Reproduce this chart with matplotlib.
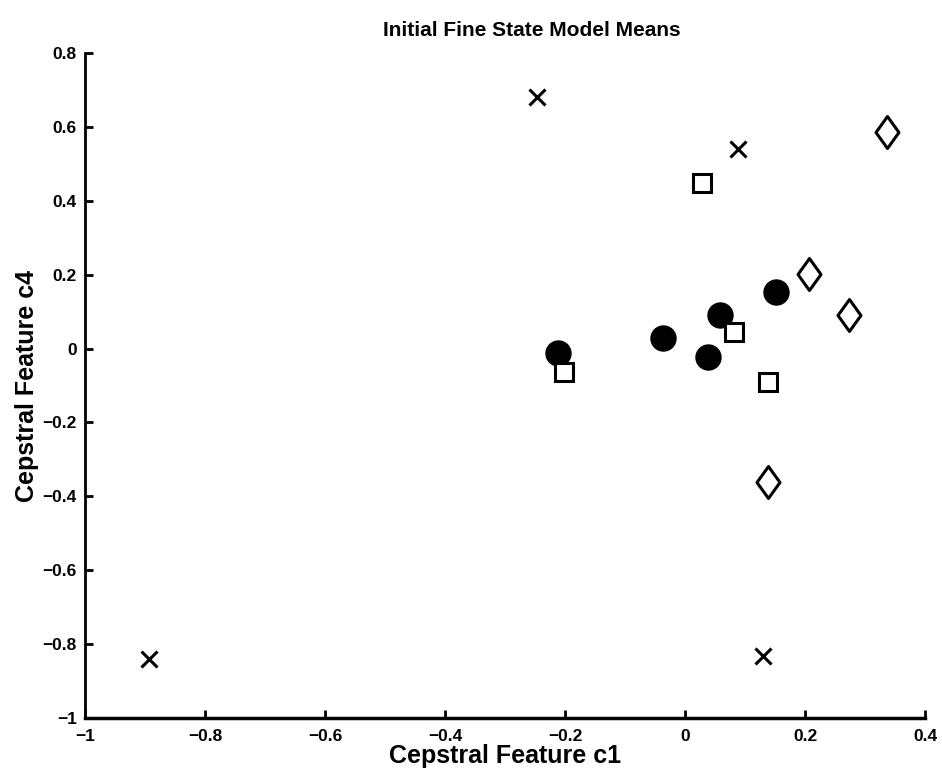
import matplotlib
matplotlib.use("Agg")
import matplotlib.pyplot as plt
from matplotlib.path import Path

plt.rcParams['font.family'] = ['Liberation Sans', 'DejaVu Sans']

# cluster means
cross_x = [-0.246, 0.088, -0.893, 0.130]
cross_y = [0.680, 0.540, -0.840, -0.832]

diamond_x = [0.337, 0.206, 0.273, 0.138]
diamond_y = [0.586, 0.202, 0.091, -0.361]

square_x = [0.028, 0.081, -0.201, 0.138]
square_y = [0.448, 0.045, -0.063, -0.090]

circle_x = [-0.211, -0.036, 0.039, 0.058, 0.151]
circle_y = [-0.012, 0.028, -0.023, 0.091, 0.153]

xticks = [-1, -0.8, -0.6, -0.4, -0.2, 0, 0.2, 0.4]
yticks = [-1, -0.8, -0.6, -0.4, -0.2, 0, 0.2, 0.4, 0.6, 0.8]

fig = plt.figure(figsize=(9.42, 7.76), dpi=100)
ax = fig.add_axes([0.0902, 0.0747, 0.8918, 0.857])

diamond = Path([(0, 1), (0.72, 0), (0, -1), (-0.72, 0), (0, 1)],
               [Path.MOVETO, Path.LINETO, Path.LINETO, Path.LINETO, Path.CLOSEPOLY])

ax.plot(circle_x, circle_y, 'o', color='black', markersize=18, zorder=3)
ax.plot(square_x, square_y, 's', markerfacecolor='white', markeredgecolor='black',
        markeredgewidth=2.2, markersize=13.5, zorder=4)
ax.plot(diamond_x, diamond_y, linestyle='none', marker=diamond, markerfacecolor='white',
        markeredgecolor='black', markeredgewidth=2.2, markersize=23, zorder=4)
ax.plot(cross_x, cross_y, 'x', color='black', markersize=12, markeredgewidth=2.2, zorder=4)

ax.set_xlim(-1, 0.4)
ax.set_ylim(-1, 0.8)
ax.set_xticks(xticks)
ax.set_yticks(yticks)
ax.set_xticklabels([f"{v:g}".replace('-', '\u2212') for v in xticks])
ax.set_yticklabels([f"{v:g}".replace('-', '\u2212') for v in yticks])

for s in ['top', 'right']:
    ax.spines[s].set_visible(False)
ax.spines['left'].set_linewidth(2)
ax.spines['bottom'].set_linewidth(2.5)

ax.tick_params(direction='in', length=6, width=2, labelsize=12.5)
ax.tick_params(axis='x', pad=8)
ax.tick_params(axis='y', pad=6)
for lbl in ax.get_xticklabels() + ax.get_yticklabels():
    lbl.set_fontweight('bold')

ax.set_title("Initial Fine State Model Means", fontsize=15, fontweight='bold',
             x=0.532, pad=12)
ax.set_xlabel("Cepstral Feature c1", fontsize=18, fontweight='bold', labelpad=0)
ax.set_ylabel("Cepstral Feature c4", fontsize=18, fontweight='bold', labelpad=2)

fig.savefig("out.png", dpi=100)
